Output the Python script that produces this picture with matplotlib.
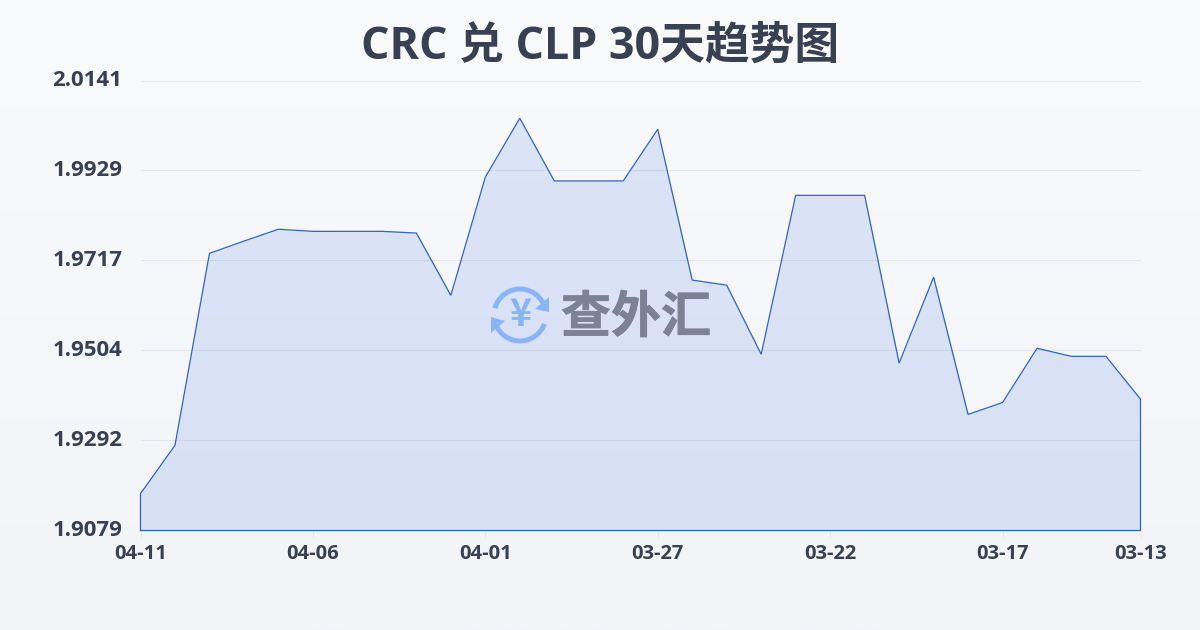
import numpy as np
import matplotlib
matplotlib.use("Agg")
import matplotlib.pyplot as plt
import matplotlib.patheffects as pe
from matplotlib.patches import Arc, Polygon
from matplotlib.transforms import ScaledTranslation

plt.rcParams["font.family"] = ["Open Sans", "Noto Sans CJK SC", "DejaVu Sans"]

# ---------------- DATA ----------------
TITLE = "CRC 兑 CLP 30天趋势图"
DATES = ["04-11", "04-10", "04-09", "04-08", "04-07", "04-06", "04-05", "04-04", "04-03", "04-02",
         "04-01", "03-31", "03-30", "03-29", "03-28", "03-27", "03-26", "03-25", "03-24", "03-23",
         "03-22", "03-21", "03-20", "03-19", "03-18", "03-17", "03-16", "03-15", "03-14", "03-13"]
RATES = [1.9166, 1.9280, 1.9733, 1.9762, 1.9790, 1.9785, 1.9785, 1.9785, 1.9781, 1.9634,
         1.9913, 2.0052, 1.9904, 1.9904, 1.9904, 2.0026, 1.9670, 1.9658, 1.9495, 1.9870,
         1.9870, 1.9870, 1.9474, 1.9677, 1.9353, 1.9381, 1.9509, 1.9490, 1.9490, 1.9389]
Y_TICKS = [1.9079, 1.9292, 1.9504, 1.9717, 1.9929, 2.0141]
LOGO_TEXT = "查外汇"

DARK = "#374151"
BLUE = "#2f62c8"
GRID = "#e3e7ee"
LOGO_BLUE = "#8ab4f8"

fig = plt.figure(figsize=(12, 6.3), dpi=100)

# fondo con degradado vertical
bg = fig.add_axes([0, 0, 1, 1], zorder=0)
bg.imshow(np.linspace(0, 1, 256).reshape(-1, 1), aspect="auto", extent=[0, 1, 0, 1],
          cmap=matplotlib.colors.LinearSegmentedColormap.from_list("bg", ["#f9fafc", "#f2f4f8"]))
bg.axis("off")

ax = fig.add_axes([140.5 / 1200, 1 - 530.5 / 630, 1000 / 1200, 450 / 630], zorder=1)
ax.patch.set_alpha(0)
x = np.arange(len(RATES))
ax.fill_between(x, RATES, Y_TICKS[0], color="#3b6fe0", alpha=0.15, lw=0, zorder=2)
ax.plot(np.r_[x[0], x, x[-1], x[0]], np.r_[Y_TICKS[0], RATES, Y_TICKS[0], Y_TICKS[0]],
        color=BLUE, lw=0.9, zorder=3, solid_joinstyle="miter", clip_on=False)

ax.set_xlim(0, len(RATES) - 1)
ax.set_ylim(Y_TICKS[0], Y_TICKS[-1])
ax.set_yticks(Y_TICKS)
ax.set_yticklabels([f"{v:.4f}" for v in Y_TICKS], fontsize=16, fontweight="bold", color=DARK)
ax.set_xticks(x[::5].tolist() + [x[-1]])
ax.set_xticklabels(DATES[::5] + [DATES[-1]], fontsize=14.5, fontweight="bold", color=DARK)
ax.tick_params(axis="y", length=0, pad=13)
ax.tick_params(axis="x", length=4, width=0.7, color=GRID, pad=5.5)
ax.grid(axis="y", color=GRID, lw=0.8, zorder=1)
ax.set_axisbelow(True)
for s in ax.spines.values():
    s.set_visible(False)
# las etiquetas del eje Y van 2px por encima de la grilla
sube = ScaledTranslation(0, 2 / 100, fig.dpi_scale_trans)
for lab in ax.get_yticklabels():
    lab.set_transform(lab.get_transform() + sube)

fig.text(0.5, 1 - 47 / 630, TITLE, ha="center", va="center", fontsize=32.2, fontweight="bold", color=DARK)

# ---------------- LOGO (en pixeles) ----------------
lg = fig.add_axes([0, 0, 1, 1], zorder=2)
lg.set_xlim(0, 1200)
lg.set_ylim(630, 0)
lg.axis("off")
cx, cy, r = 520, 315, 26
lg.add_patch(Arc((cx, cy), 2 * r, 2 * r, theta1=195, theta2=335, color=LOGO_BLUE, lw=3.6))
lg.add_patch(Arc((cx, cy), 2 * r, 2 * r, theta1=20, theta2=160, color=LOGO_BLUE, lw=3.6))
lg.add_patch(Polygon([[549, 297], [549, 312], [535, 309]], color=LOGO_BLUE, lw=0))
lg.add_patch(Polygon([[491, 317], [505, 321], [491, 333]], color=LOGO_BLUE, lw=0))
lg.text(cx, cy - 1, "¥", ha="center", va="center", fontsize=27, fontweight="bold", color=LOGO_BLUE,
        family=["Noto Sans CJK SC", "DejaVu Sans"])
lg.text(636, 318, LOGO_TEXT, ha="center", va="center", fontsize=36, fontweight="bold", color="#7a8294",
        family=["Noto Sans CJK SC", "DejaVu Sans"],
        path_effects=[pe.withStroke(linewidth=0.5, foreground="#7a8294")])

fig.savefig("out.png", dpi=100)
